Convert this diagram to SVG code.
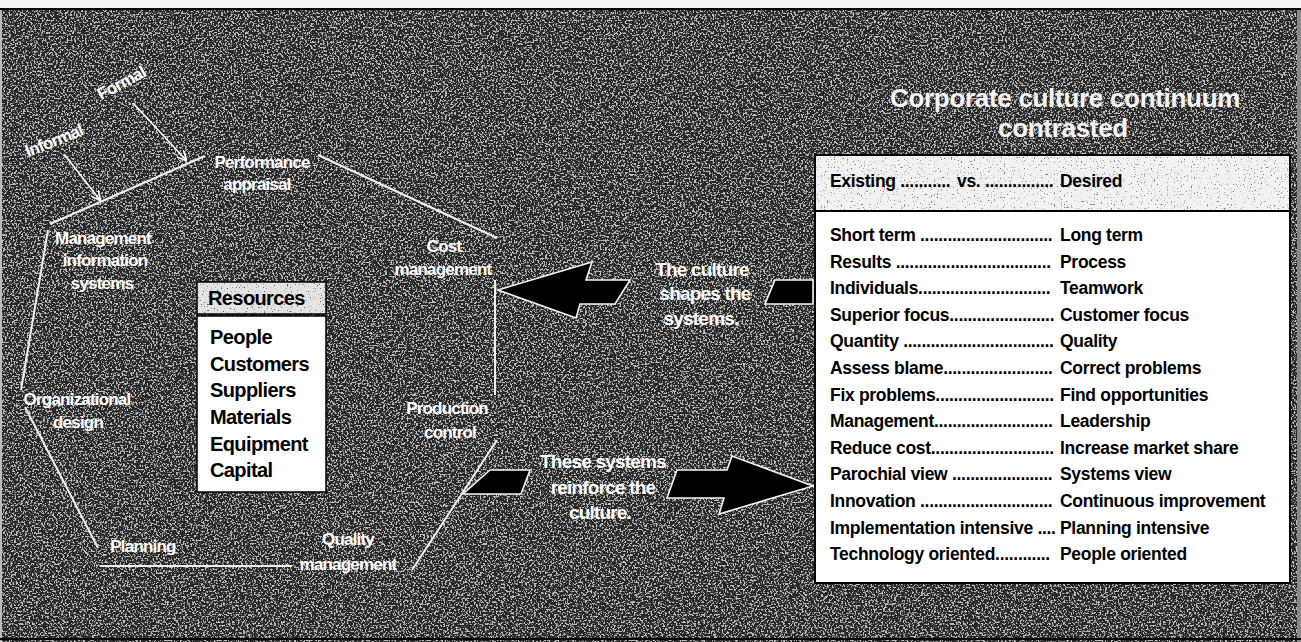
<svg xmlns="http://www.w3.org/2000/svg" width="1301" height="642" viewBox="0 0 1301 642">
<defs>
<filter id="grain" x="0" y="0" width="1" height="1">
<feTurbulence type="fractalNoise" baseFrequency="0.55" numOctaves="2" seed="7"/>
<feColorMatrix type="matrix" values="0 0 0 0 1  0 0 0 0 1  0 0 0 0 1  9 0 0 0 -4.6"/>
</filter>
<filter id="darkgrain" x="0" y="0" width="1" height="1">
<feTurbulence type="fractalNoise" baseFrequency="0.7" numOctaves="1" seed="3"/>
<feColorMatrix type="matrix" values="0 0 0 0 0  0 0 0 0 0  0 0 0 0 0  10 0 0 0 -6.4"/>
</filter>
<marker id="vhead" viewBox="0 0 10 10" refX="9" refY="5" markerWidth="10" markerHeight="10" markerUnits="userSpaceOnUse" orient="auto">
<path d="M0,0 L10,5 L0,10" fill="none" stroke="#fff" stroke-width="1.6"/>
</marker>
<style>
.lbl{font-family:"Liberation Sans",Arial,sans-serif;font-size:17px;font-weight:bold;fill:#fff;text-anchor:middle;letter-spacing:-0.8px}
.big{font-family:"Liberation Sans",Arial,sans-serif;font-size:19px;font-weight:bold;fill:#fff;text-anchor:middle;letter-spacing:-0.8px}
.ttl{font-family:"Liberation Sans",Arial,sans-serif;font-size:26px;font-weight:bold;fill:#f4f4f4;text-anchor:middle;letter-spacing:-0.3px}
.res{font-family:"Liberation Sans",Arial,sans-serif;font-size:20px;font-weight:bold;fill:#000;letter-spacing:-0.6px}
.row{font-family:"Liberation Sans",Arial,sans-serif;font-size:17.5px;font-weight:bold;fill:#000;letter-spacing:-0.3px}
.edge{stroke:#f0f0f0;stroke-width:2;fill:none}
.arr{fill:#000;stroke:#f4f4f4;stroke-width:1.6;stroke-linejoin:miter}
.thin{stroke:#fff;stroke-width:1.6;fill:none}
</style>
</defs>

<!-- background -->
<rect x="0" y="0" width="1301" height="642" fill="#262626"/>
<rect x="0" y="0" width="1301" height="642" filter="url(#grain)" opacity="0.7"/>
<rect x="0" y="0" width="1301" height="8" fill="#f4f4f4"/>
<rect x="0" y="8" width="1301" height="2" fill="#000"/>
<rect x="0" y="10" width="2" height="632" fill="#bbb"/>
<rect x="1297" y="10" width="4" height="632" fill="#888"/>
<rect x="0" y="638" width="1301" height="2" fill="#000"/>

<!-- title -->
<g id="title">
<text class="ttl" x="1065" y="107">Corporate culture continuum</text>
<text class="ttl" x="1063" y="137">contrasted</text>
</g>

<!-- connectors -->
<g id="connectors">
<line class="edge" x1="50" y1="224" x2="205" y2="156"/>
<line class="edge" x1="318" y1="155" x2="497" y2="238"/>
<line class="edge" x1="495" y1="280" x2="495" y2="395"/>
<line class="edge" x1="497" y1="440" x2="412" y2="570"/>
<line class="edge" x1="100" y1="566" x2="292" y2="566"/>
<line class="edge" x1="25" y1="407" x2="98" y2="548"/>
<line class="edge" x1="48" y1="230" x2="21" y2="390"/>
<line class="thin" x1="133" y1="103" x2="186" y2="160" marker-end="url(#vhead)"/>
<line class="thin" x1="64" y1="154" x2="100" y2="200" marker-end="url(#vhead)"/>
<!-- upper broad arrow: culture shapes systems -->
<polygon class="arr" points="498,290 592,262 586,280 630,280 615,304 580,304 576,318"/>
<polygon class="arr" points="775,280 813,280 813,304 765,304"/>
<!-- lower broad arrow: systems reinforce culture -->
<polygon class="arr" points="490,470 530,470 521,494 463,494"/>
<polygon class="arr" points="677,470 727,470 732,456 813,486 719,514 724,498 667,498"/>
</g>

<!-- node labels -->
<g id="n-formal"><text class="lbl" transform="translate(124,88) rotate(-28)">Formal</text></g>
<g id="n-informal"><text class="lbl" transform="translate(56,146) rotate(-22)">Informal</text></g>
<g id="n-performance"><text class="lbl" x="262" y="168">Performance</text><text class="lbl" x="257" y="190">appraisal</text></g>
<g id="n-cost"><text class="lbl" x="444" y="252">Cost</text><text class="lbl" x="443" y="275">management</text></g>
<g id="n-mis"><text class="lbl" x="103" y="244">Management</text><text class="lbl" x="105" y="266">information</text><text class="lbl" x="102" y="289">systems</text></g>
<g id="n-org"><text class="lbl" x="77" y="405">Organizational</text><text class="lbl" x="78" y="428">design</text></g>
<g id="n-planning"><text class="lbl" x="143" y="552">Planning</text></g>
<g id="n-quality"><text class="lbl" x="348" y="545">Quality</text><text class="lbl" x="348" y="570">management</text></g>
<g id="n-production"><text class="lbl" x="447" y="414">Production</text><text class="lbl" x="450" y="438">control</text></g>

<g id="n-shapes"><text class="big" x="702" y="276">The culture</text><text class="big" x="705" y="300">shapes the</text><text class="big" x="701" y="325">systems.</text></g>
<g id="n-reinforce"><text class="big" x="603" y="468">These systems</text><text class="big" x="603" y="494">reinforce the</text><text class="big" x="600" y="519">culture.</text></g>

<!-- resources box -->
<g id="n-resources">
<rect x="197" y="282" width="129" height="32" fill="#e4e4e4" stroke="#000" stroke-width="1.5"/>
<rect x="197" y="282" width="129" height="32" filter="url(#darkgrain)" opacity="0.6"/>
<rect x="197" y="316" width="129" height="176" fill="#fff" stroke="#000" stroke-width="1.5"/>
<text class="res" x="208" y="305">Resources</text>
<text class="res" x="210" y="344">People</text>
<text class="res" x="210" y="371">Customers</text>
<text class="res" x="210" y="397">Suppliers</text>
<text class="res" x="210" y="424">Materials</text>
<text class="res" x="210" y="451">Equipment</text>
<text class="res" x="210" y="477">Capital</text>
</g>

<!-- continuum table -->
<g id="n-table">
<rect x="815" y="155" width="475" height="55" fill="#f2f2f2"/>
<rect x="815" y="155" width="475" height="55" filter="url(#darkgrain)" opacity="0.5"/>
<rect x="815" y="210" width="475" height="373" fill="#fff"/>
<rect x="815" y="155" width="475" height="428" fill="none" stroke="#000" stroke-width="2"/>
<line x1="815" y1="211" x2="1290" y2="211" stroke="#000" stroke-width="2"/>
<text class="row" x="830" y="187">Existing ...........<tspan x="957">vs. ...............</tspan><tspan x="1060">Desired</tspan></text>
<text class="row" x="830" y="241">Short term .............................<tspan x="1060">Long term</tspan></text>
<text class="row" x="830" y="267.6">Results ..................................<tspan x="1060">Process</tspan></text>
<text class="row" x="830" y="294.2">Individuals.............................<tspan x="1060">Teamwork</tspan></text>
<text class="row" x="830" y="320.8">Superior focus.......................<tspan x="1060">Customer focus</tspan></text>
<text class="row" x="830" y="347.4">Quantity .................................<tspan x="1060">Quality</tspan></text>
<text class="row" x="830" y="374">Assess blame........................<tspan x="1060">Correct problems</tspan></text>
<text class="row" x="830" y="400.6">Fix problems..........................<tspan x="1060">Find opportunities</tspan></text>
<text class="row" x="830" y="427.2">Management..........................<tspan x="1060">Leadership</tspan></text>
<text class="row" x="830" y="453.8">Reduce cost...........................<tspan x="1060">Increase market share</tspan></text>
<text class="row" x="830" y="480.4">Parochial view ......................<tspan x="1060">Systems view</tspan></text>
<text class="row" x="830" y="507">Innovation .............................<tspan x="1060">Continuous improvement</tspan></text>
<text class="row" x="830" y="533.6">Implementation intensive ....<tspan x="1060">Planning intensive</tspan></text>
<text class="row" x="830" y="560.2">Technology oriented............<tspan x="1060">People oriented</tspan></text>
</g>
</svg>
